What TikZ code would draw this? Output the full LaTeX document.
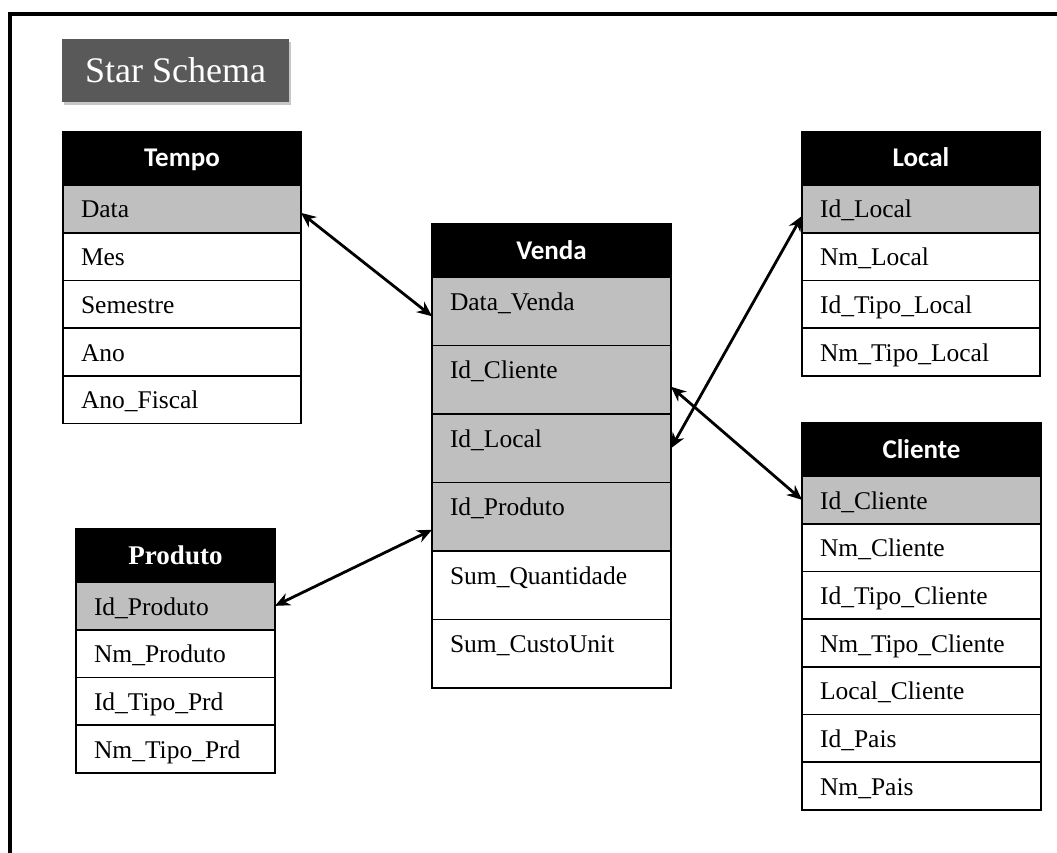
\documentclass[tikz,border=0pt]{standalone}
\usepackage{fontspec}
\setmainfont{Liberation Serif}
\newfontfamily\headfont{Carlito}
\usetikzlibrary{positioning,arrows.meta,shadows}
\definecolor{keygray}{HTML}{BFBFBF}
\definecolor{titlegray}{HTML}{595959}
\tikzstyle{field} = [rectangle, draw=black, line width=1.6pt, fill=white, outer sep=0pt, inner xsep=18pt, inner ysep=0pt, text height=33pt, text depth=14.7pt, align=left, font=\fontsize{25.5}{30}\selectfont]
\tikzstyle{keyfield} = [field, fill=keygray]
\tikzstyle{measure} = [field, text depth=35.5pt]
\tikzstyle{factkey} = [measure, fill=keygray]
\tikzstyle{header} = [rectangle, draw=black, line width=1.6pt, fill=black, text=white, outer sep=0pt, inner xsep=18pt, inner ysep=0pt, text height=35pt, text depth=18pt, align=center, font=\headfont\bfseries\fontsize{27}{32}\selectfont]
\tikzstyle{titlebox} = [rectangle, fill=titlegray, text=white, minimum width=227pt, minimum height=63pt, font=\fontsize{36}{40}\selectfont, drop shadow={shadow xshift=2pt, shadow yshift=-3pt, opacity=0.45}]
\tikzstyle{connect} = [line width=2.8pt, {Stealth[length=15pt,width=13pt]}-{Stealth[length=15pt,width=13pt]}]

\begin{document}
\begin{tikzpicture}[x=1pt, y=-1pt, node distance=0pt]
		\useasboundingbox (0,0) rectangle (1057,853);
		\draw [line width=4pt] (10,853) -- (10,14.5) -- (1057,14.5);
		\node (title) [titlebox] at (175.5,70.5) {Star Schema};

		% dimensao tempo
		\begin{scope}[nodes={text width=202pt}]
		\node (tempo) [header, anchor=north west] at (63,132) {Tempo};
		\node (data) [keyfield, below=of tempo] {Data};
		\node (mes) [field, below=of data] {Mes};
		\node (semestre) [field, below=of mes] {Semestre};
		\node (ano) [field, below=of semestre] {Ano};
		\node (anofiscal) [field, below=of ano] {Ano\_Fiscal};
		\end{scope}

		% fato venda
		\begin{scope}[nodes={text width=203pt}]
		\node (venda) [header, anchor=north west] at (432,224) {Venda};
		\node (vdata) [factkey, below=of venda] {Data\_Venda};
		\node (vcliente) [factkey, below=of vdata] {Id\_Cliente};
		\node (vlocal) [factkey, below=of vcliente] {Id\_Local};
		\node (vproduto) [factkey, below=of vlocal] {Id\_Produto};
		\node (vqtd) [measure, below=of vproduto] {Sum\_Quantidade};
		\node (vcusto) [measure, below=of vqtd] {Sum\_CustoUnit};
		\end{scope}

		% dimensao local
		\begin{scope}[nodes={text width=202pt}]
		\node (local) [header, anchor=north west] at (802,132) {Local};
		\node (idlocal) [keyfield, below=of local] {Id\_Local};
		\node (nmlocal) [field, below=of idlocal] {Nm\_Local};
		\node (idtipolocal) [field, below=of nmlocal] {Id\_Tipo\_Local};
		\node (nmtipolocal) [field, below=of idtipolocal] {Nm\_Tipo\_Local};
		\end{scope}

		% dimensao cliente
		\begin{scope}[nodes={text width=203pt}]
		\node (cliente) [header, anchor=north west] at (802,423) {Cliente};
		\node (idcliente) [keyfield, below=of cliente] {Id\_Cliente};
		\node (nmcliente) [field, below=of idcliente] {Nm\_Cliente};
		\node (idtipocliente) [field, below=of nmcliente] {Id\_Tipo\_Cliente};
		\node (nmtipocliente) [field, below=of idtipocliente] {Nm\_Tipo\_Cliente};
		\node (localcliente) [field, below=of nmtipocliente] {Local\_Cliente};
		\node (idpais) [field, below=of localcliente] {Id\_Pais};
		\node (nmpais) [field, below=of idpais] {Nm\_Pais};
		\end{scope}

		% dimensao produto
		\begin{scope}[nodes={text width=163pt}]
		\node (produto) [header, anchor=north west, font=\bfseries\fontsize{27}{32}\selectfont] at (76,529) {Produto};
		\node (idproduto) [keyfield, below=of produto] {Id\_Produto};
		\node (nmproduto) [field, below=of idproduto] {Nm\_Produto};
		\node (idtipoprd) [field, below=of nmproduto] {Id\_Tipo\_Prd};
		\node (nmtipoprd) [field, below=of idtipoprd] {Nm\_Tipo\_Prd};
		\end{scope}

		\draw [connect] ([yshift=-4pt]data.east) -- ([yshift=-5pt]vdata.west);
		\draw [connect] ([yshift=-7pt]idlocal.west) -- (vlocal.east);
		\draw [connect] ([yshift=-7pt]vcliente.east) -- (idcliente.west);
		\draw [connect] (idproduto.east) -- ([yshift=-13pt]vproduto.west);
\end{tikzpicture}
\end{document}
